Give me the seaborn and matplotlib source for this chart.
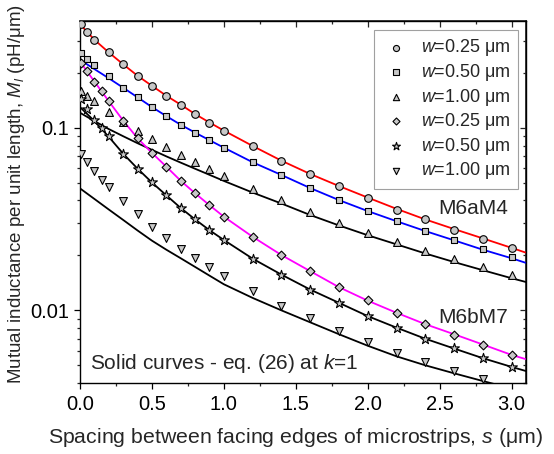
import matplotlib
matplotlib.use("Agg")
import matplotlib.pyplot as plt
import seaborn as sns
from matplotlib.ticker import MultipleLocator, LogLocator, NullFormatter, FixedFormatter, FixedLocator

sns.set_theme(style="ticks")
plt.rcParams['font.family'] = ['Liberation Sans', 'DejaVu Sans']
plt.rcParams['mathtext.fontset'] = 'custom'
plt.rcParams['mathtext.rm'] = 'Liberation Sans'
plt.rcParams['mathtext.it'] = 'Liberation Sans:italic'
plt.rcParams['font.size'] = 13

# ---- data: markers (simulation) ----
s_a = [0.01, 0.05, 0.1, 0.2, 0.3, 0.4, 0.5, 0.6, 0.7, 0.8, 0.9, 1.0,
       1.2, 1.4, 1.6, 1.8, 2.0, 2.2, 2.4, 2.6, 2.8, 3.0]
a_w025 = [0.372, 0.335, 0.304, 0.259, 0.223, 0.193, 0.170, 0.150, 0.134, 0.119, 0.107, 0.0966,
          0.0796, 0.0661, 0.0559, 0.048, 0.0415, 0.0357, 0.0315, 0.0277, 0.0247, 0.0221]
a_w050 = [0.258, 0.238, 0.220, 0.192, 0.166, 0.147, 0.130, 0.116, 0.104, 0.0942, 0.0856, 0.0779,
          0.0648, 0.0552, 0.0468, 0.0402, 0.035, 0.0308, 0.0273, 0.0243, 0.0216, 0.0196]
a_w100 = [0.160, 0.150, 0.1395, 0.122, 0.108, 0.0963, 0.0867, 0.0789, 0.0714, 0.0648, 0.0593, 0.0545,
          0.0464, 0.0402, 0.0344, 0.0302, 0.0267, 0.0237, 0.0212, 0.0191, 0.0172, 0.0156]

s_b = [0.01, 0.05, 0.1, 0.15, 0.2, 0.3, 0.4, 0.5, 0.6, 0.7, 0.8, 0.9, 1.0,
       1.2, 1.4, 1.6, 1.8, 2.0, 2.2, 2.4, 2.6, 2.8, 3.0]
b_w025 = [0.2275, 0.2056, 0.1795, 0.1583, 0.140, 0.1096, 0.0878, 0.0729, 0.0613, 0.0513, 0.0438, 0.0377, 0.0326,
          0.0253, 0.0201, 0.0164, 0.0134, 0.01135, 0.00971, 0.00838, 0.00735, 0.00643, 0.00571]
b_w050 = [0.144, 0.1268, 0.1107, 0.0996, 0.0898, 0.0722, 0.0598, 0.0502, 0.0427, 0.0363, 0.0315, 0.0275, 0.0243,
          0.0192, 0.0157, 0.0130, 0.01097, 0.0093, 0.00804, 0.00699, 0.00621, 0.00547, 0.00492]
b_w100 = [0.0720, 0.0648, 0.0583, 0.0521, 0.0474, 0.0396, 0.0336, 0.0288, 0.0250, 0.0218, 0.0194, 0.0173, 0.0154,
          0.0127, 0.01056, 0.00904, 0.0077, 0.0067, 0.00586, 0.0052, 0.00464, 0.00419, 0.0036]

# ---- data: solid curves, eq. (26) at k=1 ----
s_c = [0.0, 0.1, 0.2, 0.3, 0.4, 0.5, 0.6, 0.7, 0.8, 0.9, 1.0,
       1.2, 1.4, 1.6, 1.8, 2.0, 2.2, 2.4, 2.6, 2.8, 3.0, 3.1]
c_a025 = [0.370, 0.304, 0.259, 0.223, 0.193, 0.170, 0.150, 0.134, 0.119, 0.107, 0.0966,
          0.0796, 0.0661, 0.0559, 0.0480, 0.0415, 0.0360, 0.0315, 0.0279, 0.0248, 0.0220, 0.0207]
c_a050 = [0.236, 0.210, 0.187, 0.166, 0.147, 0.130, 0.116, 0.104, 0.0942, 0.0856, 0.0779,
          0.0648, 0.0552, 0.0468, 0.0402, 0.0350, 0.0308, 0.0272, 0.0242, 0.0215, 0.0193, 0.0182]
c_a100 = [0.121, 0.109, 0.0985, 0.0900, 0.0824, 0.0758, 0.0698, 0.0645, 0.0597, 0.0553, 0.0512,
          0.0442, 0.0385, 0.0333, 0.0292, 0.0258, 0.0230, 0.0205, 0.0184, 0.0166, 0.0150, 0.0143]
c_b025 = [0.231, 0.1795, 0.140, 0.1096, 0.0878, 0.0729, 0.0613, 0.0513, 0.0438, 0.0377, 0.0326,
          0.0253, 0.0201, 0.0164, 0.0134, 0.0113, 0.0097, 0.0084, 0.0074, 0.0065, 0.0057, 0.0054]
c_b050 = [0.130, 0.109, 0.0893, 0.0722, 0.0598, 0.0502, 0.0427, 0.0364, 0.0315, 0.0275, 0.0243,
          0.0192, 0.0157, 0.0130, 0.0110, 0.0093, 0.00804, 0.00699, 0.00618, 0.00547, 0.00490, 0.00465]
c_b100 = [0.0466, 0.0408, 0.0357, 0.0313, 0.0274, 0.0241, 0.0215, 0.0193, 0.0173, 0.0155, 0.0139,
          0.0117, 0.0100, 0.0086, 0.0074, 0.0064, 0.0056, 0.0050, 0.00452, 0.00410, 0.00373, 0.00356]

labels = ['$w$=0.25 μm', '$w$=0.50 μm', '$w$=1.00 μm',
          '$w$=0.25 μm', '$w$=0.50 μm', '$w$=1.00 μm']

fig, ax = plt.subplots(figsize=(5.54, 4.54), dpi=100)
fig.subplots_adjust(left=0.1444, right=0.9495, top=0.9537, bottom=0.1564)
ax.set_yscale('log')

curves = [(c_a025, 'red'), (c_a050, '#0000ff'), (c_a100, 'black'),
          (c_b025, '#ff00ff'), (c_b050, 'black'), (c_b100, 'black')]
for yv, col in curves:
    sns.lineplot(x=s_c, y=yv, ax=ax, color=col, lw=1.3, legend=False, zorder=2)

mk = [(s_a, a_w025, 'o', 30), (s_a, a_w050, 's', 24), (s_a, a_w100, '^', 32),
      (s_b, b_w025, 'D', 20), (s_b, b_w050, '*', 55), (s_b, b_w100, 'v', 32)]
for (xs, ys, m, sz), lab in zip(mk, labels):
    sns.scatterplot(x=xs, y=ys, ax=ax, marker=m, s=sz, color='#c8c8c8',
                    edgecolor='black', linewidth=0.8, label=lab, zorder=3)

ax.set_xlim(0, 3.1)
ax.set_ylim(0.0040, 0.385)
ax.xaxis.set_major_locator(MultipleLocator(0.5))
ax.xaxis.set_minor_locator(MultipleLocator(0.25))
ax.xaxis.set_major_formatter(matplotlib.ticker.FormatStrFormatter('%.1f'))
ax.yaxis.set_major_locator(FixedLocator([0.01, 0.1]))
ax.yaxis.set_major_formatter(FixedFormatter(['0.01', '0.1']))
ax.yaxis.set_minor_locator(LogLocator(base=10, subs=[2, 3, 4, 5, 6, 7, 8, 9]))
ax.yaxis.set_minor_formatter(NullFormatter())
ax.tick_params(which='major', direction='out', length=4, width=0.9, labelsize=14.5, colors='black')
ax.tick_params(axis='x', which='major', pad=5)
ax.tick_params(which='minor', direction='out', length=2.5, width=0.9)

secx = ax.secondary_xaxis('top')
secx.xaxis.set_major_locator(MultipleLocator(0.5))
secx.xaxis.set_minor_locator(MultipleLocator(0.25))
secx.tick_params(which='major', direction='in', length=4, width=0.9, labeltop=False)
secx.tick_params(which='minor', direction='in', length=2.5, width=0.9)
secy = ax.secondary_yaxis('right')
secy.yaxis.set_major_locator(FixedLocator([0.01, 0.1]))
secy.yaxis.set_minor_locator(LogLocator(base=10, subs=[2, 3, 4, 5, 6, 7, 8, 9]))
secy.tick_params(which='major', direction='in', length=4, width=0.9, labelright=False)
secy.tick_params(which='minor', direction='in', length=2.5, width=0.9, labelright=False)
secy.yaxis.set_minor_formatter(NullFormatter())

for sp in ax.spines.values():
    sp.set_linewidth(1.0)
    sp.set_color('black')

ax.set_xlabel('Spacing between facing edges of microstrips, $s$ (μm)', fontsize=15.3)
ax.xaxis.set_label_coords(0.484, -0.118)
ax.set_ylabel('Mutual inductance per unit length, $M_l$ (pH/μm)', fontsize=13.5)
ax.yaxis.set_label_coords(-0.119, 0.523)

ax.text(2.73, 0.0362, 'M6aM4', fontsize=15, ha='center', va='center')
ax.text(2.73, 0.00917, 'M6bM7', fontsize=15, ha='center', va='center')
ax.text(0.07, 0.0051, 'Solid curves - eq. (26) at $k$=1', fontsize=15, ha='left', va='center')

leg = ax.legend(loc='upper right', bbox_to_anchor=(0.982, 0.975), frameon=True, fancybox=False,
                edgecolor='#a0a0a0', framealpha=1, fontsize=13, labelspacing=0.2,
                handletextpad=0.6, borderpad=0.4, handlelength=1.6, markerscale=0.8,
                borderaxespad=0)
leg.get_frame().set_linewidth(0.8)

fig.savefig('out.png', dpi=100)
